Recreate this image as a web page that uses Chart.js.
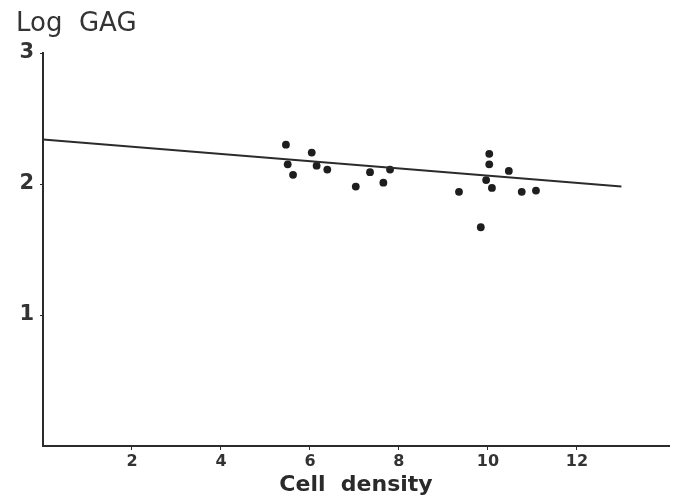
<!DOCTYPE html>
<html>
<head>
<meta charset="utf-8">
<script src="https://cdn.jsdelivr.net/npm/chart.js@4.4.1/dist/chart.umd.min.js"></script>
<style>
  html, body { margin: 0; padding: 0; background: #fff; }
  #wrap { width: 674px; height: 499px; }
</style>
</head>
<body>
<div id="wrap"><canvas id="gagChart" width="674" height="499"></canvas></div>
<script>
// Measured samples: cell density vs log GAG
const cellDensity = [5.46, 5.50, 5.62, 6.04, 6.15, 6.39, 7.03, 7.35, 7.65, 7.80,
                     10.03, 10.03, 10.47, 9.96, 10.09, 9.35, 10.76, 11.08, 9.84];
const logGag      = [2.30, 2.15, 2.07, 2.24, 2.14, 2.11, 1.98, 2.09, 2.01, 2.11,
                     2.23, 2.15, 2.10, 2.03, 1.97, 1.94, 1.94, 1.95, 1.67];

// Fitted regression line (end points)
const fitX = [0, 13];
const fitY = [2.34, 1.98];

// Axis ticks
const xTicks = [2, 4, 6, 8, 10, 12];
const yTicks = [1, 2, 3];

const ink = '#2b2b2b';

const samples = cellDensity.map((x, i) => ({ x: x, y: logGag[i] }));
const fitLine = fitX.map((x, i) => ({ x: x, y: fitY[i] }));

// y-axis caption sits above the axis, flush with the left edge
const yCaption = {
    id: 'yCaption',
    afterDraw(chart) {
        const ctx = chart.ctx;
        ctx.save();
        ctx.fillStyle = '#333';
        ctx.font = 'normal 26px "DejaVu Sans"';
        ctx.textAlign = 'left';
        ctx.textBaseline = 'alphabetic';
        ctx.fillText('Log  GAG', 16, 31);
        ctx.restore();
    }
};

const chartData = {
    datasets: [{
        type: 'line',
        label: 'fit',
        data: fitLine,
        borderColor: ink,
        borderWidth: 2,
        pointRadius: 0,
        tension: 0
    }, {
        type: 'scatter',
        label: 'samples',
        data: samples,
        backgroundColor: '#1e1e1e',
        borderWidth: 0,
        pointRadius: 3.9
    }]
};

const chartConfig = {
    type: 'scatter',
    data: chartData,
    plugins: [yCaption],
    options: {
        responsive: false,
        animation: false,
        layout: { padding: { left: 0, right: 5, top: 53, bottom: 0 } },
        plugins: {
            legend: { display: false },
            tooltip: { enabled: false }
        },
        scales: {
            x: {
                type: 'linear',
                min: 0,
                max: 14.07,
                afterBuildTicks: function(axis) {
                    axis.ticks = xTicks.map(v => ({ value: v }));
                },
                afterFit: function(axis) { axis.height = 53; },
                border: { display: true, color: ink, width: 2 },
                grid: { drawOnChartArea: false, drawTicks: true, tickLength: 4, color: ink },
                ticks: {
                    color: '#333',
                    padding: 2,
                    maxRotation: 0,
                    font: { family: 'DejaVu Sans', size: 16, weight: 'bold' }
                },
                title: {
                    display: true,
                    text: 'Cell  density',
                    color: '#2a2a2a',
                    padding: { top: 0, bottom: 1 },
                    font: { family: 'DejaVu Sans', size: 22, weight: 'bold' }
                }
            },
            y: {
                type: 'linear',
                min: 0,
                max: 3,
                afterBuildTicks: function(axis) {
                    axis.ticks = yTicks.map(v => ({ value: v }));
                },
                afterFit: function(axis) { axis.width = 43; },
                border: { display: true, color: ink, width: 2 },
                grid: { drawOnChartArea: false, drawTicks: true, tickLength: 3, color: ink },
                ticks: {
                    color: '#333',
                    padding: 6,
                    font: { family: 'DejaVu Sans', size: 21, weight: 'bold' }
                }
            }
        }
    }
};

new Chart(document.getElementById('gagChart'), chartConfig);
</script>
</body>
</html>
